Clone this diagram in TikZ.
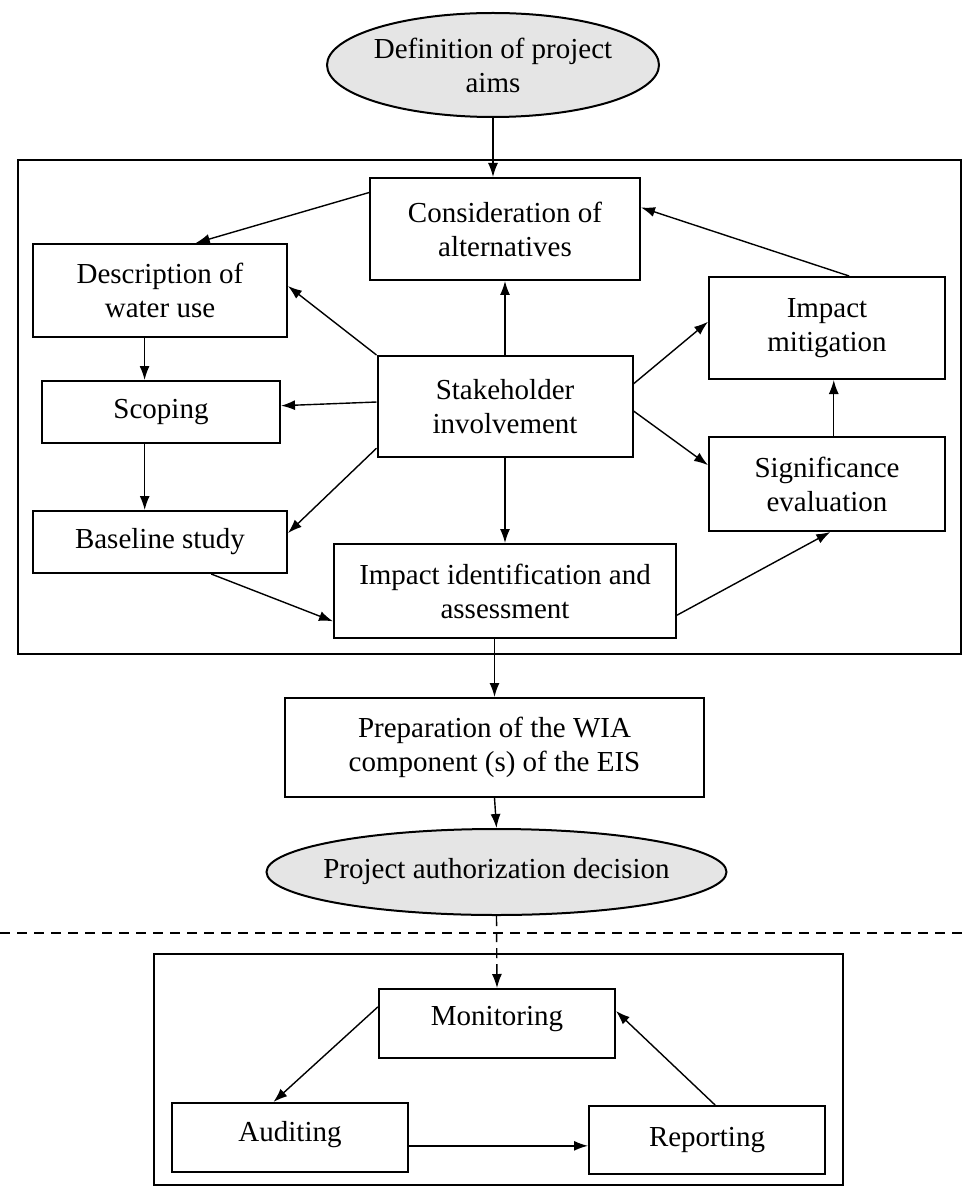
\documentclass[tikz,border=0pt]{standalone}
\usepackage{fontspec}
\setmainfont{Liberation Serif}
\usetikzlibrary{arrows.meta,shapes.geometric}
\begin{document}
\begin{tikzpicture}[x=0.5pt, y=-0.5pt,
    every node/.style={font=\fontsize{14.5}{17}\selectfont, align=center},
    box/.style={draw, line width=1pt, inner sep=2pt},
    oval/.style={draw, ellipse, line width=1pt, fill=gray!20, inner ysep=0pt},
    arr/.style={-{Latex[length=7pt, width=5pt]}, line width=0.7pt},
    frame/.style={draw, line width=0.7pt}]
  \useasboundingbox (0, 0) rectangle (963, 1192);
  \node [oval, minimum width=166pt, minimum height=52pt, inner xsep=-3pt] (aims) at (493, 65) {Definition of project\\aims};
  \draw [frame] (18, 160) rectangle (961, 654);
  \node [box, minimum width=135pt, minimum height=51pt] (cons) at (505, 229) {Consideration of\\alternatives};
  \node [box, minimum width=127pt, minimum height=46.5pt] (desc) at (160, 290.5) {Description of\\water use};
  \node [box, minimum width=118pt, minimum height=51pt] (mitig) at (827, 328) {Impact\\mitigation};
  \node [box, minimum width=127.5pt, minimum height=50.5pt] (stake) at (505, 406.5) {Stakeholder\\involvement};
  \node [box, minimum width=119pt, minimum height=31pt] (scop) at (161, 412) {Scoping};
  \node [box, minimum width=118pt, minimum height=47pt] (signif) at (827, 484) {Significance\\evaluation};
  \node [box, minimum width=127pt, minimum height=31pt] (base) at (160, 542) {Baseline study};
  \node [box, minimum width=171pt, minimum height=47pt] (ident) at (505, 591) {Impact identification and\\assessment};
  \node [box, minimum width=209.5pt, minimum height=49.5pt] (wia) at (494.5, 747.5) {Preparation of the WIA\\component (s) of the EIS};
  \node [oval, minimum width=230pt, minimum height=43pt, inner xsep=-8pt] (auth) at (496.5, 872) {Project authorization decision};
  \draw [line width=0.7pt, dash pattern=on 5pt off 3.5pt] (0, 933) -- (963, 933);
  \draw [frame] (154, 954) rectangle (843, 1185);
  \node [box, minimum width=118pt, minimum height=34.5pt, text depth=8pt] (monit) at (497, 1023.5) {Monitoring};
  \node [box, minimum width=118pt, minimum height=34.5pt, text depth=6pt] (audit) at (290, 1137.5) {Auditing};
  \node [box, minimum width=118pt, minimum height=34pt] (report) at (707, 1140) {Reporting};

  \draw [arr] (aims.south) -- (aims.south |- cons.north);
  \draw [arr] (cons.165) -- (desc.53);
  \draw [arr] (mitig.67) -- (cons.9);
  \draw [arr] (stake.north west) -- (desc.2);
  \draw [arr] (stake.north) -- (cons.south);
  \draw [arr] (stake.10) -- (mitig.177);
  \draw [arr] (stake.178) -- (scop.3);
  \draw [arr] (stake.198) -- (base.4);
  \draw [arr] (stake.south) -- (ident.north);
  \draw [arr] (stake.-2) -- (signif.171);
  \draw [arr] (signif.82) -- (signif.82 |- mitig.south);
  \draw [arr] (desc.-108) -- (desc.-108 |- scop.north);
  \draw [arr] (scop.-117) -- (scop.-117 |- base.north);
  \draw [arr] (base.-32) -- (ident.190);
  \draw [arr] (ident.-8) -- (signif.-86);
  \draw [arr] (wia.north |- ident.south) -- (wia.north);
  \draw [arr] (wia.south) -- (auth.north);
  \draw [arr, dash pattern=on 5pt off 3pt] (auth.south) -- (monit.north);
  \draw [arr] (monit.172) -- (audit.115);
  \draw [arr] (audit.-4) -- (audit.-4 -| report.west);
  \draw [arr] (report.77) -- (monit.6);
\end{tikzpicture}
\end{document}
